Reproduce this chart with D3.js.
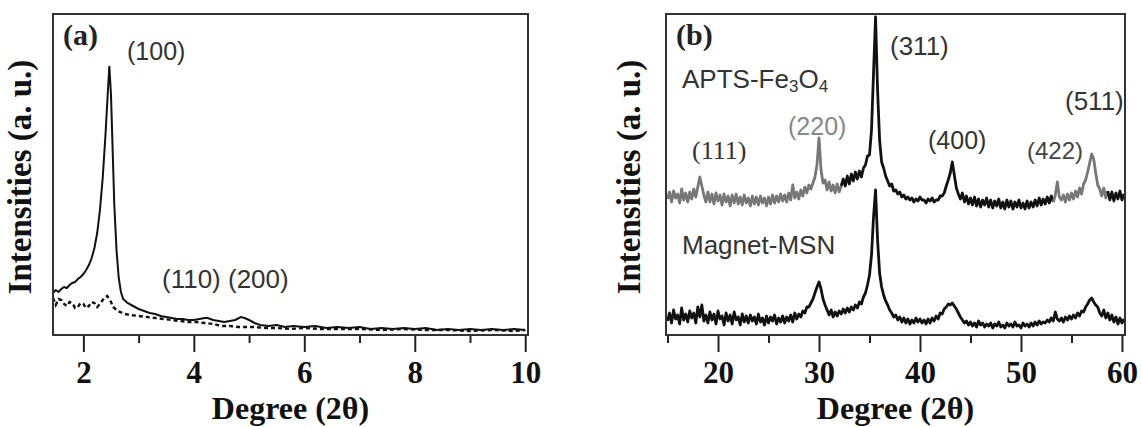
<!DOCTYPE html>
<html><head><meta charset="utf-8">
<script src="https://cdn.jsdelivr.net/npm/d3@7"></script>
<style>body{margin:0;background:#fff}svg{display:block}</style>
</head><body>
<svg id="chart" width="1141" height="427"></svg>
<script>
// ---------- DATA ----------
// Panel (a): small-angle XRD, [2θ, intensity]
const aSolid = [
 [1.45,42],[1.50,45],[1.55,43],[1.60,46],[1.65,48],[1.70,47],[1.75,50],[1.80,52],[1.85,53],[1.90,56],
 [1.95,58],[2.00,61],[2.05,65],[2.10,70],[2.15,77],[2.20,87],[2.25,102],[2.30,125],[2.35,157],[2.40,200],
 [2.44,240],[2.47,269],[2.50,240],[2.53,185],[2.56,130],[2.60,85],[2.64,57],[2.68,43],[2.72,36],[2.80,32],
 [2.90,29],[3.00,26],[3.10,24],[3.20,22],[3.30,21],[3.40,19],[3.50,18],[3.60,17],[3.70,16],[3.80,16],
 [3.90,15],[4.00,15],[4.10,16],[4.20,17],[4.25,17],[4.35,15],[4.45,14],[4.55,13],[4.65,14],[4.75,15],
 [4.85,18],[4.92,17],[5.00,15],[5.10,12],[5.20,10],[5.35,9],[5.50,10],[5.65,8],[5.80,9],[6.00,8],
 [6.20,9],[6.40,7],[6.60,8],[6.80,7],[7.00,8],[7.20,6],[7.40,7],[7.60,6],[7.80,7],[8.00,6],
 [8.20,7],[8.40,5],[8.60,6],[8.80,5],[9.00,6],[9.20,5],[9.40,6],[9.60,5],[9.80,6],[10.00,5]
];
const aDashed = [
 [1.45,37],[1.50,30],[1.55,36],[1.60,35],[1.65,31],[1.70,29],[1.75,33],[1.80,32],[1.85,27],[1.90,28],
 [1.95,32],[2.00,31],[2.05,27],[2.10,29],[2.15,33],[2.20,32],[2.25,28],[2.30,31],[2.35,35],[2.38,37],
 [2.43,39],[2.47,36],[2.50,33],[2.54,28],[2.58,26],[2.62,24],[2.67,23],[2.75,21],[2.85,20],[3.00,19],
 [3.15,18],[3.30,17],[3.45,16],[3.60,15],[3.75,14],[3.90,13],[4.05,13],[4.20,12],[4.35,11],[4.50,9],
 [4.65,9],[4.80,8],[4.95,8],[5.10,8],[5.30,7],[5.50,7],[5.75,6],[6.00,7],[6.30,6],[6.60,6],
 [7.00,6],[7.40,5],[7.80,6],[8.20,5],[8.60,5],[9.00,4],[9.40,5],[9.80,4],[10.00,5]
];
const aTicks = [2, 4, 6, 8, 10];
const aMinorTicks = [3, 5, 7, 9];
const aPeaks = ["(100)", "(110) (200)"];

// Panel (b): wide-angle XRD, 2θ grid from 15.0 to 60.2 step 0.2
const bStart = 15.0, bStep = 0.2;
const bAPTS = [
 136,143,133,144,137,141,132,146,135,142,
 133,143,136,146,138,148,158,149,140,133,
 143,133,141,131,142,134,140,130,141,133,
 139,129,140,132,141,131,138,130,140,132,
 137,129,139,131,138,130,139,132,137,129,
 138,131,140,132,139,133,141,134,140,133,
 142,135,150,137,143,136,145,139,148,142,
 150,146,152,158,170,197,165,152,155,145,
 153,144,150,142,151,143,149,156,149,159,
 151,161,154,163,156,164,158,167,170,179,
 180,205,262,318,245,195,173,167,159,154,
 149,151,144,145,141,143,138,140,136,138,
 135,137,133,136,134,138,135,135,132,136,
 134,137,133,135,135,139,139,142,149,155,
 162,173,160,147,141,136,142,133,139,131,
 137,130,138,129,136,128,135,130,137,128,
 135,127,134,129,136,127,133,126,135,128,
 134,126,133,128,135,127,132,126,134,127,
 133,128,135,129,137,130,136,131,138,132,
 139,133,140,153,138,135,140,133,141,135,
 142,136,144,138,147,141,151,155,163,172,
 181,176,162,150,146,139,147,137,144,135,
 143,134,142,136,144,135,141
];
const bMSN = [
 14,22,12,25,16,20,11,27,15,21,
 13,24,17,22,12,28,18,30,14,20,
 12,23,15,21,11,24,16,19,10,22,
 14,20,11,23,15,18,10,21,13,19,
 12,20,14,18,11,21,13,17,10,19,
 12,18,14,20,11,17,13,19,12,18,
 14,20,13,22,16,21,18,24,22,28,
 28,32,36,42,48,53,46,36,30,25,
 20,25,18,23,19,24,21,26,22,27,
 23,28,25,30,27,33,31,38,42,50,
 60,80,118,145,95,62,48,40,34,30,
 25,22,18,20,15,18,13,17,12,16,
 11,15,12,17,13,16,12,15,11,16,
 12,17,14,19,16,22,21,26,28,31,
 30,32,29,26,22,18,15,12,14,10,
 13,9,12,8,14,10,12,8,11,9,
 12,7,11,9,13,8,10,7,12,9,
 11,8,13,9,10,7,12,9,11,8,
 12,9,13,10,14,11,13,12,15,13,
 17,14,23,16,14,17,13,18,15,19,
 16,20,17,22,19,24,23,28,31,35,
 37,33,30,28,22,19,25,17,22,15,
 20,13,18,11,17,12,16
];
// APTS trace drawn grey in these 2θ ranges
const bGreyRanges = [[15.0, 32.0], [53.2, 58.4]];
const bTicks = [20, 30, 40, 50, 60];
const bMinorTicks = [15, 25, 35, 45, 55];
const bSeriesNames = ["APTS-Fe", "Magnet-MSN"];

// ---------- DRAW ----------
const svg = d3.select("#chart");
const serif = "'Liberation Serif','Times New Roman',serif";
const sans = "'Liberation Sans',Arial,sans-serif";

function panel(opts) {
  const g = svg.append("g");
  const {x, y} = opts;
  const [x0, x1] = x.range(), [y0, y1] = y.range();
  const clipId = "clip" + opts.id;
  svg.append("clipPath").attr("id", clipId).append("rect")
    .attr("x", x0).attr("y", y1).attr("width", x1 - x0).attr("height", y0 - y1);
  // minor ticks
  g.append("g").attr("transform", `translate(0,${y0})`)
    .call(d3.axisBottom(x).tickValues(opts.minor).tickSize(8).tickFormat(""))
    .call(a => { a.select(".domain").remove(); a.selectAll("line").attr("stroke", "#222").attr("stroke-width", 2); });
  // major ticks
  g.append("g").attr("transform", `translate(0,${y0})`)
    .call(d3.axisBottom(x).tickValues(opts.major).tickSize(17).tickPadding(9).tickFormat(d3.format("d")))
    .call(a => {
      a.select(".domain").remove();
      a.selectAll("line").attr("stroke", "#222").attr("stroke-width", 2);
      a.selectAll("text").attr("font-family", serif).attr("font-weight", "bold")
        .attr("font-size", 31).attr("fill", "#111");
    });
  const plot = g.append("g").attr("clip-path", `url(#${clipId})`);
  // frame
  g.append("rect").attr("x", x0).attr("y", y1).attr("width", x1 - x0).attr("height", y0 - y1)
    .attr("fill", "none").attr("stroke", "#333").attr("stroke-width", 2);
  // titles
  g.append("text").attr("x", (x0 + x1) / 2).attr("y", 419).attr("text-anchor", "middle")
    .attr("font-family", serif).attr("font-weight", "bold").attr("font-size", 32).attr("fill", "#111")
    .text("Degree (2θ)");
  g.append("text").attr("transform", `translate(${opts.ytx},177) rotate(-90)`).attr("text-anchor", "middle")
    .attr("font-family", serif).attr("font-weight", "bold").attr("font-size", 33).attr("fill", "#111")
    .text("Intensities (a. u.)");
  g.append("text").attr("x", x0 + 10).attr("y", 45)
    .attr("font-family", serif).attr("font-weight", "bold").attr("font-size", 30).attr("fill", "#222")
    .text(opts.label);
  return {g, plot};
}

// Panel (a)
const xa = d3.scaleLinear().domain([1.45, 10.05]).range([53, 528]);
const ya = d3.scaleLinear().domain([0, 321]).range([335, 14]);
const pa = panel({id: "a", x: xa, y: ya, major: aTicks, minor: aMinorTicks, ytx: 31, label: "(a)"});
const lineA = d3.line().x(d => xa(d[0])).y(d => ya(d[1]));
pa.plot.append("path").datum(aDashed).attr("d", lineA).attr("fill", "none")
  .attr("stroke", "#111").attr("stroke-width", 2.4).attr("stroke-dasharray", "4,3");
pa.plot.append("path").datum(aSolid).attr("d", lineA).attr("fill", "none")
  .attr("stroke", "#111").attr("stroke-width", 2);
pa.g.append("text").attr("x", 127).attr("y", 60).attr("font-family", sans).attr("font-size", 25)
  .attr("fill", "#333").text(aPeaks[0]);
pa.g.append("text").attr("x", 162).attr("y", 288).attr("font-family", sans).attr("font-size", 26)
  .attr("fill", "#333").text(aPeaks[1]);

// Panel (b)
const xb = d3.scaleLinear().domain([14.85, 60.3]).range([666, 1125]);
const yb = d3.scaleLinear().domain([0, 321]).range([335, 14]);
const pb = panel({id: "b", x: xb, y: yb, major: bTicks, minor: bMinorTicks, ytx: 640, label: "(b)"});
const toPts = arr => arr.map((v, i) => [bStart + i * bStep, v]);
const apts = toPts(bAPTS), msn = toPts(bMSN);
const lineB = d3.line().x(d => xb(d[0])).y(d => yb(d[1]));
const isGrey = t => bGreyRanges.some(r => t >= r[0] - 1e-9 && t <= r[1] + 1e-9);
// split APTS into colour segments (shared endpoints)
const segs = [];
let cur = [apts[0]], curGrey = isGrey(apts[0][0]);
for (let i = 1; i < apts.length; i++) {
  const gNow = isGrey(apts[i][0]);
  cur.push(apts[i]);
  if (gNow !== curGrey || i === apts.length - 1) {
    segs.push({pts: cur, grey: curGrey});
    cur = [apts[i]]; curGrey = gNow;
  }
}
pb.plot.append("path").datum(msn).attr("d", lineB).attr("fill", "none")
  .attr("stroke", "#111").attr("stroke-width", 2.8).attr("stroke-linejoin", "round");
pb.plot.selectAll("path.apts").data(segs).join("path").attr("class", "apts")
  .attr("d", d => lineB(d.pts)).attr("fill", "none")
  .attr("stroke", d => d.grey ? "#777" : "#111").attr("stroke-width", 2.8).attr("stroke-linejoin", "round");

const lbl = (x, y, t, size, fill, fam) => pb.g.append("text").attr("x", x).attr("y", y)
  .attr("font-family", fam || sans).attr("font-size", size).attr("fill", fill).text(t);
const apt = pb.g.append("text").attr("x", 682).attr("y", 88).attr("font-family", sans)
  .attr("font-size", 26).attr("fill", "#333");
apt.append("tspan").text(bSeriesNames[0]);
apt.append("tspan").attr("font-size", 17).attr("dy", 4).text("3");
apt.append("tspan").attr("dy", -4).text("O");
apt.append("tspan").attr("font-size", 17).attr("dy", 4).text("4");
lbl(682, 254, bSeriesNames[1], 26, "#333");
lbl(890, 55, "(311)", 26, "#333");
lbl(788, 135, "(220)", 25, "#888");
lbl(692, 159, "(111)", 26, "#333", serif);
lbl(928, 149, "(400)", 25, "#333");
lbl(1027, 159, "(422)", 24, "#444");
lbl(1065, 110, "(511)", 26, "#333");
</script>
</body></html>
